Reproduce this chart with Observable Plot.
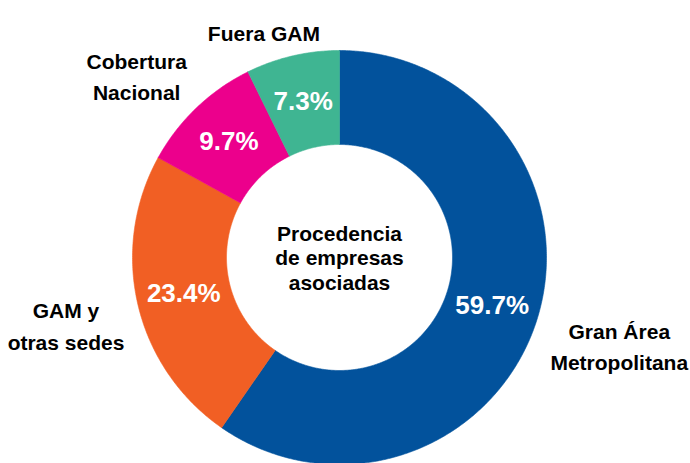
<!DOCTYPE html>
<html>
<head>
<meta charset="utf-8">
<script src="https://cdn.jsdelivr.net/npm/d3@7"></script>
<script src="https://cdn.jsdelivr.net/npm/@observablehq/plot@0.6"></script>
<style>
  html, body { margin: 0; padding: 0; background: #fff; }
  #chart svg { display: block; }
</style>
</head>
<body>
<div id="chart"></div>
<script>
// ---- data ----
const categories = ["Gran Área\nMetropolitana", "GAM y\notras sedes", "Cobertura\nNacional", "Fuera GAM"];
const values = [59.7, 23.4, 9.7, 7.3];
const colors = ["#02529C", "#F15F24", "#EC008C", "#3FB592"];
const centerTitle = "Procedencia\nde empresas\nasociadas";

// ---- layout constants ----
const W = 690, H = 463;
const CX = 339, CY = 257;         // pixel centre of the donut
const R_OUT = 207, R_IN = 113;
const FONT = "'Liberation Sans', Arial, sans-serif";
const LABEL_SIZE = 21, LABEL_LH = 1.48;

const total = d3.sum(values);
const slices = [];
let acc = 0;
values.forEach((v, i) => {
  const a0 = acc / total * 2 * Math.PI;
  acc += v;
  const a1 = acc / total * 2 * Math.PI;
  slices.push({cat: categories[i], value: v, a0, a1, mid: (a0 + a1) / 2});
});

// polygon outline of each slice (angle measured clockwise from top, y up)
const outline = [];
for (const s of slices) {
  const n = Math.max(2, Math.ceil((s.a1 - s.a0) / (Math.PI / 360)));
  for (let k = 0; k <= n; k++) {
    const a = s.a0 + (s.a1 - s.a0) * k / n;
    outline.push({cat: s.cat, x: R_OUT * Math.sin(a), y: R_OUT * Math.cos(a)});
  }
  for (let k = n; k >= 0; k--) {
    const a = s.a0 + (s.a1 - s.a0) * k / n;
    outline.push({cat: s.cat, x: R_IN * Math.sin(a), y: R_IN * Math.cos(a)});
  }
  outline.push({cat: s.cat, x: R_OUT * Math.sin(s.a0), y: R_OUT * Math.cos(s.a0)});
}

// percentage labels at the middle of each ring segment
const rMid = (R_OUT + R_IN) / 2;
const pctLabels = slices.map(s => ({
  text: s.value.toFixed(1) + "%",
  x: rMid * Math.sin(s.mid), y: rMid * Math.cos(s.mid)
}));

// outside category labels
const ctx = document.createElement("canvas").getContext("2d");
ctx.font = `bold ${LABEL_SIZE}px ${FONT}`;
const clamp = v => Math.max(-1, Math.min(1, v));
const rLab = R_OUT + 14;
const catLabels = slices.map(s => {
  const lines = s.cat.split("\n");
  const w = d3.max(lines, l => ctx.measureText(l).width);
  const h = lines.length * LABEL_SIZE * LABEL_LH * 0.75;
  const ux = Math.sin(s.mid), uy = Math.cos(s.mid);
  return {
    text: s.cat,
    x: rLab * ux + clamp(ux * 2) * w / 2,
    y: rLab * uy + clamp(uy * 3) * h / 2
  };
});

const chart = Plot.plot({
  width: W, height: H,
  margin: 0,
  x: {domain: [-CX, W - CX], range: [0, W], axis: null},
  y: {domain: [-(H - CY), CY], range: [H, 0], axis: null},
  color: {domain: categories, range: colors},
  style: {fontFamily: FONT, background: "#fff"},
  marks: [
    Plot.line(outline, {x: "x", y: "y", z: "cat", fill: "cat", stroke: "cat", strokeWidth: 0.6, curve: "linear"}),
    Plot.text(pctLabels, {x: "x", y: "y", text: "text", fill: "white", fontSize: 26, fontWeight: "bold", lineAnchor: "middle"}),
    Plot.text(catLabels, {x: "x", y: "y", text: "text", fill: "#000", fontSize: LABEL_SIZE, fontWeight: "bold", lineAnchor: "middle", lineHeight: LABEL_LH}),
    Plot.text([centerTitle], {x: () => 0, y: () => 0, text: d => d, fill: "#000", fontSize: 21, fontWeight: "bold", lineAnchor: "middle", lineHeight: 1.17})
  ]
});
document.getElementById("chart").appendChild(chart);
</script>
</body>
</html>
